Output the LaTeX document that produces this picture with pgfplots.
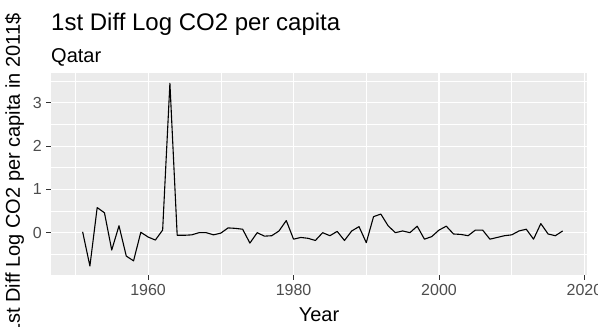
\documentclass[border=0pt]{standalone}
\usepackage{pgfplots}
\pgfplotsset{compat=1.18}
\usepackage{fontspec}
\setmainfont{Liberation Sans}
\definecolor{panel}{HTML}{EBEBEB}
\definecolor{tickc}{HTML}{333333}
\definecolor{labc}{HTML}{4D4D4D}
\begin{document}
\begin{tikzpicture}[x=1pt,y=1pt]
\useasboundingbox (0,0) rectangle (598,327);
\clip (0,0) rectangle (598,327);
\begin{axis}[
  at={(51pt,52pt)}, anchor=south west,
  scale only axis, width=536pt, height=201.7pt,
  xmin=1946.65, xmax=2020.35, ymin=-0.977, ymax=3.68,
  axis background/.style={fill=panel},
  axis line style={draw=none},
  grid=both,
  major grid style={white, line width=1.1pt},
  minor grid style={white, line width=0.55pt},
  xtick={1960,1980,2000,2020},
  minor xtick={1950,1970,1990,2010},
  ytick={0,1,2,3},
  minor ytick={-0.5,0.5,1.5,2.5,3.5},
  tick style={color=tickc, line width=1pt},
  tick align=outside,
  major tick length=5pt, minor tick length=0pt,
  xtick pos=bottom, ytick pos=left,
  scaled ticks=false,
  /pgf/number format/assume math mode=true,
  /pgf/number format/1000 sep={},
  xticklabel style={font=\fontsize{16}{18}\selectfont, text=labc, inner sep=0pt, anchor=north, yshift=-4pt},
  yticklabel style={font=\fontsize{16}{18}\selectfont, text=labc, inner sep=0pt, anchor=east, xshift=-4pt},
]
\addplot[black, line width=1.1pt, line join=round] coordinates {
(1951,0.02) (1952,-0.77) (1953,0.58) (1954,0.46) (1955,-0.40) (1956,0.16)
(1957,-0.54) (1958,-0.65) (1959,0.01) (1960,-0.10) (1961,-0.17) (1962,0.06)
(1963,3.45) (1964,-0.06) (1965,-0.06) (1966,-0.05) (1967,0.00) (1968,0.00)
(1969,-0.05) (1970,-0.01) (1971,0.11) (1972,0.10) (1973,0.08) (1974,-0.24)
(1975,0.00) (1976,-0.08) (1977,-0.07) (1978,0.04) (1979,0.28) (1980,-0.15)
(1981,-0.11) (1982,-0.13) (1983,-0.18) (1984,0.00) (1985,-0.07) (1986,0.03)
(1987,-0.18) (1988,0.04) (1989,0.14) (1990,-0.23) (1991,0.37) (1992,0.43)
(1993,0.16) (1994,0.00) (1995,0.04) (1996,0.00) (1997,0.15) (1998,-0.15)
(1999,-0.09) (2000,0.06) (2001,0.15) (2002,-0.03) (2003,-0.04) (2004,-0.07)
(2005,0.06) (2006,0.06) (2007,-0.15) (2008,-0.11) (2009,-0.07) (2010,-0.05)
(2011,0.04) (2012,0.08) (2013,-0.15) (2014,0.21) (2015,-0.03) (2016,-0.07)
(2017,0.04)
};
\end{axis}
\node[anchor=base west, inner sep=0pt, font=\fontsize{24}{28}\selectfont] at (51,296) {1st Diff Log CO2 per capita};
\node[anchor=base west, inner sep=0pt, font=\fontsize{20}{24}\selectfont] at (51,264) {Qatar};
\node[anchor=base, inner sep=0pt, font=\fontsize{20}{24}\selectfont] at (319,5) {Year};
\node[anchor=base, inner sep=0pt, rotate=90, font=\fontsize{20}{24}\selectfont] at (20,153) {1st Diff Log CO2 per capita in 2011\$};
\end{tikzpicture}
\end{document}
